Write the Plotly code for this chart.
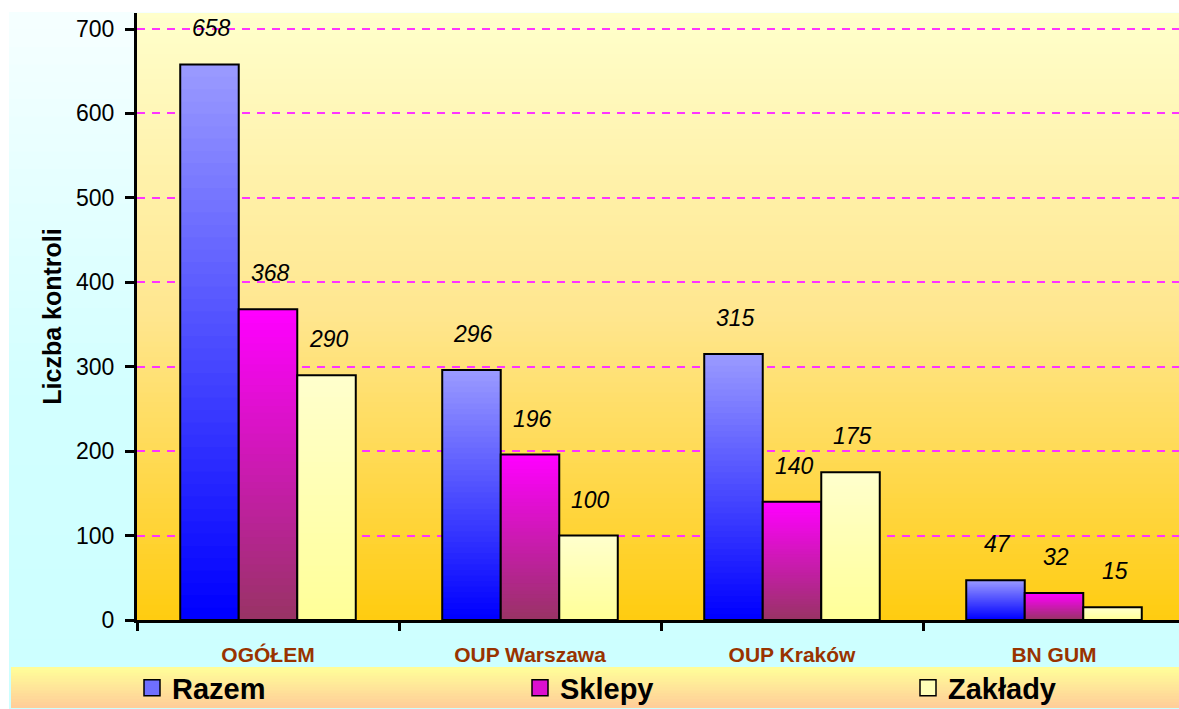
import plotly.graph_objects as go

categories = ["OGÓŁEM", "OUP Warszawa", "OUP Kraków", "BN GUM"]
series_names = ["Razem", "Sklepy", "Zakłady"]
razem = [658, 296, 315, 47]
sklepy = [368, 196, 140, 32]
zaklady = [290, 100, 175, 15]
series_values = [razem, sklepy, zaklady]
y_ticks = [0, 100, 200, 300, 400, 500, 600, 700]

# (top colour, bottom colour, legend swatch) for each series
SERIES_STYLE = [
    ("#9999ff", "#0000ff", "#6f6fff"),
    ("#ff00ff", "#993366", "#dd10d0"),
    ("#ffffcc", "#ffff99", "#ffffb8"),
]

FONT = "Liberation Sans, Arial, sans-serif"
W, H = 1179, 709
PL, PR, PT, PB = 137, 1179, 13, 620      # plot box in pixels
CAT_PX = 262                              # one category slot
BARGAP = 0.33
BAR_PX = CAT_PX * (1 - BARGAP) / 3
N_LAYERS = 45                             # steps for the bar gradients
LEGEND_X = [132, 520, 908]                # left edge of each legend entry
LEGEND_Y = 688


def fx(px):
    return (px - PL) / (PR - PL)


def fy(py):
    return (PB - py) / (PB - PT)


def hex_rgb(c):
    c = c.lstrip("#")
    return [int(c[i:i + 2], 16) for i in (0, 2, 4)]


def mix(c1, c2, t):
    a, b = hex_rgb(c1), hex_rgb(c2)
    return "rgb(%d,%d,%d)" % tuple(round(a[i] + (b[i] - a[i]) * t) for i in range(3))


def color_at(stops, t):
    for (t0, c0), (t1, c1) in zip(stops, stops[1:]):
        if t <= t1:
            return mix(c0, c1, (t - t0) / (t1 - t0) if t1 > t0 else 0)
    return mix(stops[-1][1], stops[-1][1], 0)


def gradient_band(x0, x1, y0, y1, stops, n):
    """Vertical gradient made of thin paper-referenced strips (y0 = top px)."""
    shapes = []
    h = (y1 - y0) / n
    for i in range(n):
        top = y0 + i * h
        bot = min(y1, top + h + 0.8)
        shapes.append(dict(
            type="rect", xref="paper", yref="paper", layer="below",
            x0=fx(x0), x1=fx(x1), y0=fy(bot), y1=fy(top),
            fillcolor=color_at(stops, (i + 0.5) / n), line=dict(width=0),
        ))
    return shapes


fig = go.Figure()

# bars: each series is a stack of overlaid bars to fake the vertical gradient
for i, (name, vals) in enumerate(zip(series_names, series_values)):
    top_c, bot_c, swatch = SERIES_STYLE[i]
    for k in range(N_LAYERS):
        frac = (N_LAYERS - k) / N_LAYERS
        fig.add_trace(go.Bar(
            x=categories, y=[v * frac for v in vals],
            offsetgroup=name, showlegend=False, hoverinfo="skip",
            marker=dict(color=mix(top_c, bot_c, k / (N_LAYERS - 1)), line=dict(width=0)),
        ))
    # outline on top
    fig.add_trace(go.Bar(
        x=categories, y=vals, offsetgroup=name, name=name, showlegend=False,
        marker=dict(color="rgba(0,0,0,0)", line=dict(color="black", width=2)),
        hovertemplate=name + ": %{y}<extra></extra>",
    ))

# legend entries, one legend per series so they can be spread along the band
legend_ids = ["legend", "legend2", "legend3"]
for i, name in enumerate(series_names):
    fig.add_trace(go.Scatter(
        x=[categories[0]], y=[None], name=name, mode="markers", showlegend=True,
        legend=legend_ids[i], hoverinfo="skip",
        marker=dict(symbol="square", size=16, color=SERIES_STYLE[i][2],
                    line=dict(color="black", width=1.5)),
    ))

# value labels above the bars
for i, vals in enumerate(series_values):
    for cat, v in zip(categories, vals):
        fig.add_annotation(
            x=cat, y=v, text=str(v), showarrow=False,
            xshift=(i - 1) * BAR_PX + 2, yshift=36, yanchor="middle",
            font=dict(family=FONT, size=23, color="black", style="italic"),
        )

shapes = []
shapes += gradient_band(9, W, 12, H, [(0, "#f6ffff"), (0.55, "#d2ffff"), (1, "#ccffff")], 40)
shapes += gradient_band(PL, PR, PT, PB, [(0, "#ffffcc"), (0.5, "#ffe68e"), (1, "#ffcc10")], 120)
shapes += gradient_band(11, W, 667, 708, [(0, "#ffff99"), (1, "#ffcc99")], 14)

legend_style = dict(
    orientation="h", xanchor="left", yanchor="middle", y=fy(LEGEND_Y),
    bgcolor="rgba(0,0,0,0)", itemsizing="trace",
    font=dict(family=FONT, size=29, color="black", weight="bold"),
)

fig.update_layout(
    width=W, height=H,
    margin=dict(l=PL, r=W - PR, t=PT, b=H - PB, autoexpand=False),
    paper_bgcolor="white", plot_bgcolor="rgba(0,0,0,0)",
    barmode="group", bargap=BARGAP, bargroupgap=0,
    shapes=shapes,
    font=dict(family=FONT, color="black"),
    showlegend=True,
    legend=dict(x=fx(LEGEND_X[0]), **legend_style),
    legend2=dict(x=fx(LEGEND_X[1]), **legend_style),
    legend3=dict(x=fx(LEGEND_X[2]), **legend_style),
    xaxis=dict(
        type="category", range=[-0.5, -0.5 + (PR - PL) / CAT_PX],
        showline=True, linecolor="black", linewidth=3,
        ticks="outside", tickson="boundaries", ticklen=8, tickwidth=2.5, tickcolor="black",
        ticklabelstandoff=14,
        tickfont=dict(family=FONT, size=21, color="#993300", weight="bold"),
        showgrid=False, fixedrange=True,
    ),
    yaxis=dict(
        range=[0, (PB - PT) / (591 / 700)], tickvals=y_ticks,
        showline=True, linecolor="black", linewidth=3,
        ticks="outside", ticklen=9, tickwidth=2.5, tickcolor="black",
        ticklabelstandoff=6,
        tickfont=dict(family=FONT, size=23, color="black"),
        showgrid=True, gridcolor="#ff33ff", gridwidth=1.5, griddash="8px,7px",
        zeroline=False,
        title=dict(text="Liczba kontroli", standoff=8,
                   font=dict(family=FONT, size=25, color="black", weight="bold")),
        fixedrange=True,
    ),
)

# the page's default 8px body margin would push the figure past the window
fig.write_html(
    "out.html",
    config=dict(displayModeBar=False),
    post_script="document.body.style.margin='0';document.body.style.overflow='hidden';",
)
